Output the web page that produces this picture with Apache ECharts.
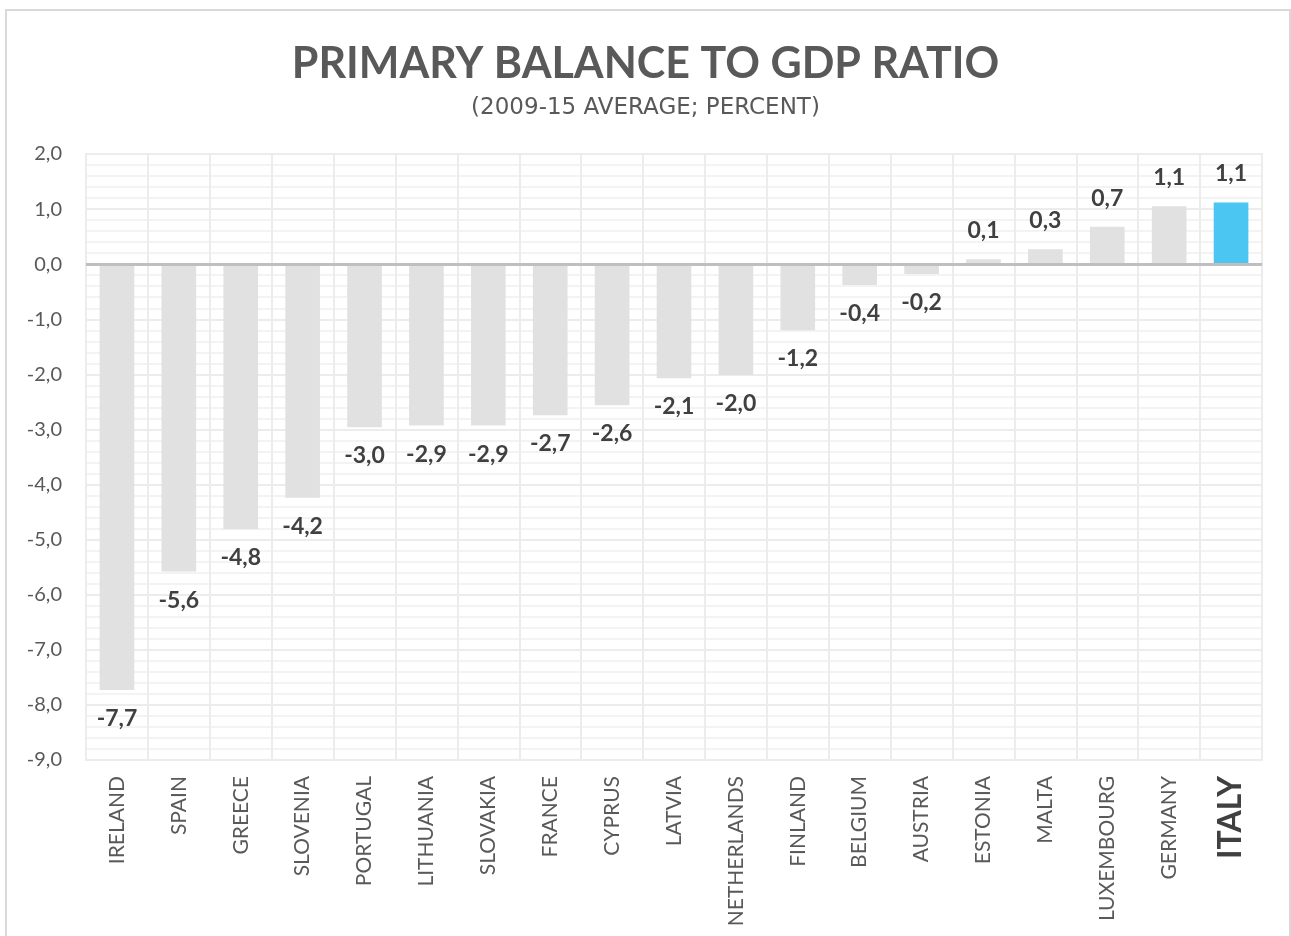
<!DOCTYPE html>
<html>
<head>
<meta charset="utf-8">
<script src="https://cdn.jsdelivr.net/npm/echarts@6/dist/echarts.min.js"></script>
<style>
  html, body { margin: 0; padding: 0; background: #ffffff; }
  #chart { width: 1291px; height: 936px; }
</style>
</head>
<body>
<div id="chart"></div>
<script>
// Primary balance to GDP ratio, 2009-15 average, percent
const categories = ['IRELAND', 'SPAIN', 'GREECE', 'SLOVENIA', 'PORTUGAL', 'LITHUANIA', 'SLOVAKIA',
  'FRANCE', 'CYPRUS', 'LATVIA', 'NETHERLANDS', 'FINLAND', 'BELGIUM', 'AUSTRIA', 'ESTONIA',
  'MALTA', 'LUXEMBOURG', 'GERMANY', 'ITALY'];
const values = [-7.73, -5.58, -4.81, -4.24, -2.96, -2.93, -2.93, -2.74, -2.56, -2.07, -2.01,
  -1.2, -0.38, -0.18, 0.09, 0.27, 0.68, 1.05, 1.12];
const highlighted = 'ITALY';
const yTicks = { min: -9, max: 2, step: 1 };

const fmt = v => v.toFixed(1).replace('.', ',');
const baseFont = 'Lato, "Open Sans", sans-serif';

const chart = echarts.init(document.getElementById('chart'), null, { renderer: 'canvas' });

const barData = values.map((v, i) => ({
  value: v,
  itemStyle: { color: categories[i] === highlighted ? '#4bc5f1' : '#e1e1e1' }
}));

chart.setOption({
  backgroundColor: '#ffffff',
  animation: false,
  graphic: [{
    type: 'rect',
    z: -10,
    shape: { x: 6, y: 10, width: 1284, height: 940 },
    style: { fill: 'none', stroke: '#d9d9d9', lineWidth: 2 }
  }],
  title: {
    text: 'PRIMARY BALANCE TO GDP RATIO',
    subtext: '(2009-15 AVERAGE; PERCENT)',
    left: 'center',
    top: 38,
    itemGap: 11,
    textStyle: { fontFamily: baseFont, fontWeight: 'bold', fontSize: 43, color: '#595959' },
    subtextStyle: { fontFamily: '"DejaVu Sans", sans-serif', fontSize: 23, color: '#595959' }
  },
  grid: {
    left: 86, right: 29, top: 154, bottom: 176,
    show: true, borderColor: '#ececec', borderWidth: 2
  },
  xAxis: {
    type: 'category',
    data: categories,
    boundaryGap: true,
    axisLine: { show: false },
    axisTick: { show: false },
    splitLine: { show: true, interval: 0, lineStyle: { color: '#ececec', width: 2 } },
    axisLabel: {
      interval: 0,
      rotate: 90,
      margin: 16,
      fontFamily: baseFont,
      fontSize: 21,
      color: '#595959',
      formatter: v => v === highlighted ? '{hl|' + v + '}' : v,
      rich: {
        hl: { fontFamily: baseFont, fontSize: 32, fontWeight: 'bold', color: '#404040' }
      }
    }
  },
  yAxis: {
    type: 'value',
    min: yTicks.min,
    max: yTicks.max,
    interval: yTicks.step,
    axisLine: { show: false },
    axisTick: { show: false },
    axisLabel: {
      margin: 24,
      fontFamily: baseFont,
      fontSize: 20,
      color: '#595959',
      formatter: v => fmt(v)
    },
    splitLine: { show: true, lineStyle: { color: '#ececec', width: 2 } },
    minorTick: { show: false, splitNumber: 5 },
    minorSplitLine: { show: true, lineStyle: { color: '#f0f0f0', width: 1.5 } }
  },
  series: [{
    type: 'bar',
    data: barData,
    barWidth: '56%',
    label: {
      show: true,
      position: 'outside',
      distance: 17,
      fontFamily: baseFont,
      fontWeight: 'bold',
      fontSize: 23,
      color: '#404040',
      formatter: p => fmt(p.value)
    },
    markLine: {
      silent: true,
      symbol: 'none',
      label: { show: false },
      lineStyle: { color: '#bfbfbf', width: 3, type: 'solid' },
      data: [{ yAxis: 0 }]
    }
  }]
});
</script>
</body>
</html>
